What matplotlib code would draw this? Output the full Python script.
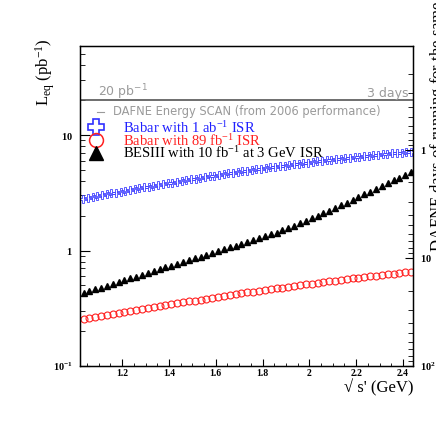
import matplotlib
matplotlib.use("Agg")
import matplotlib.pyplot as plt
from matplotlib.ticker import FixedLocator, MultipleLocator, NullFormatter, LogLocator

plt.rcParams['font.family'] = ['Liberation Serif', 'DejaVu Serif']
plt.rcParams['mathtext.fontset'] = 'custom'
plt.rcParams['mathtext.rm'] = 'Liberation Serif'
plt.rcParams['mathtext.bf'] = 'Liberation Serif:bold'
plt.rcParams['mathtext.it'] = 'Liberation Serif:italic'

# Babar with 1 ab-1 ISR
x_babar1 = [1.034, 1.054, 1.074, 1.094, 1.114, 1.134, 1.154, 1.174, 1.194, 1.214,
            1.234, 1.254, 1.274, 1.294, 1.314, 1.334, 1.354, 1.374, 1.394, 1.414,
            1.434, 1.454, 1.474, 1.494, 1.514, 1.534, 1.554, 1.574, 1.594, 1.614,
            1.634, 1.654, 1.674, 1.694, 1.714, 1.734, 1.754, 1.774, 1.794, 1.814,
            1.834, 1.854, 1.874, 1.894, 1.914, 1.934, 1.954, 1.974, 1.994, 2.014,
            2.034, 2.054, 2.074, 2.094, 2.114, 2.134, 2.154, 2.174, 2.194, 2.214,
            2.234, 2.254, 2.274, 2.294, 2.314, 2.334, 2.354, 2.374, 2.394, 2.414, 2.434]
lumi_babar1 = [2.79, 2.85, 2.90, 2.95, 3.01, 3.06, 3.12, 3.17, 3.23, 3.29,
               3.34, 3.40, 3.46, 3.52, 3.58, 3.64, 3.70, 3.76, 3.82, 3.88,
               3.94, 4.01, 4.07, 4.13, 4.19, 4.26, 4.32, 4.39, 4.45, 4.52,
               4.58, 4.65, 4.71, 4.78, 4.84, 4.91, 4.97, 5.04, 5.11, 5.17,
               5.24, 5.31, 5.37, 5.44, 5.51, 5.57, 5.64, 5.70, 5.77, 5.84,
               5.90, 5.97, 6.03, 6.10, 6.17, 6.23, 6.30, 6.36, 6.42, 6.49,
               6.55, 6.61, 6.68, 6.74, 6.80, 6.86, 6.92, 6.98, 7.04, 7.10, 7.16]

# Babar with 89 fb-1 and BESIII share the same energy points
x_scan = [1.035, 1.060, 1.085, 1.110, 1.135, 1.160, 1.185, 1.210, 1.235, 1.260,
          1.285, 1.310, 1.335, 1.360, 1.385, 1.410, 1.435, 1.460, 1.485, 1.510,
          1.535, 1.560, 1.585, 1.610, 1.635, 1.660, 1.685, 1.710, 1.735, 1.760,
          1.785, 1.810, 1.835, 1.860, 1.885, 1.910, 1.935, 1.960, 1.985, 2.010,
          2.035, 2.060, 2.085, 2.110, 2.135, 2.160, 2.185, 2.210, 2.235, 2.260,
          2.285, 2.310, 2.335, 2.360, 2.385, 2.410, 2.435]
lumi_babar89 = [0.254, 0.259, 0.264, 0.270, 0.276, 0.281, 0.287, 0.293, 0.299, 0.305,
                0.311, 0.317, 0.324, 0.330, 0.336, 0.343, 0.349, 0.356, 0.363, 0.369,
                0.376, 0.383, 0.390, 0.397, 0.404, 0.412, 0.419, 0.426, 0.433, 0.441,
                0.448, 0.456, 0.463, 0.471, 0.478, 0.486, 0.494, 0.502, 0.510, 0.517,
                0.525, 0.533, 0.541, 0.549, 0.558, 0.566, 0.574, 0.582, 0.590, 0.598,
                0.607, 0.615, 0.623, 0.631, 0.640, 0.648, 0.656]
lumi_besiii = [0.429, 0.445, 0.461, 0.478, 0.495, 0.514, 0.533, 0.552, 0.573, 0.594,
               0.617, 0.638, 0.662, 0.687, 0.713, 0.738, 0.766, 0.794, 0.824, 0.853,
               0.885, 0.918, 0.953, 0.989, 1.023, 1.062, 1.102, 1.143, 1.183, 1.227,
               1.274, 1.324, 1.377, 1.432, 1.493, 1.552, 1.629, 1.714, 1.803, 1.897,
               1.995, 2.099, 2.208, 2.328, 2.455, 2.588, 2.735, 2.891, 3.055, 3.236,
               3.420, 3.614, 3.819, 4.046, 4.276, 4.519, 4.786]

dafne_lumi = 20  # pb-1 in 3 days
x_ticks = [1.2, 1.4, 1.6, 1.8, 2.0, 2.2, 2.4]
x_ticklabels = ['1.2', '1.4', '1.6', '1.8', '2', '2.2', '2.4']
left_ticks = [0.1, 1, 10]
left_ticklabels = [r'$\mathbf{10^{-1}}$', r'$\mathbf{1}$', r'$\mathbf{10}$']
right_ticks = [1, 10, 100]
right_ticklabels = [r'$\mathbf{1}$', r'$\mathbf{10}$', r'$\mathbf{10^{2}}$']

fig = plt.figure(figsize=(4.36, 4.36), dpi=100)
ax = fig.add_axes([80/436, 70/436, 333/436, 320/436])

ax.plot(x_babar1, lumi_babar1, ls='none', marker='P', ms=5.5, mfc='none',
        mec='#4040ff', mew=0.6)
ax.plot(x_scan, lumi_babar89, ls='none', marker='o', ms=5, mfc='none',
        mec='#ff2020', mew=0.8)
ax.plot(x_scan, lumi_besiii, ls='none', marker='^', ms=5, color='black')
ax.axhline(dafne_lumi, color='#555555', lw=1.2)

ax.set_yscale('log')
ax.set_xlim(1.02, 2.443)
ax.set_ylim(0.1, 59)

ax.xaxis.set_major_locator(FixedLocator(x_ticks))
ax.xaxis.set_minor_locator(MultipleLocator(0.05))
ax.set_xticklabels(x_ticklabels, fontsize=7, fontweight='bold')
ax.yaxis.set_major_locator(FixedLocator(left_ticks))
ax.yaxis.set_minor_locator(LogLocator(subs=range(2, 10)))
ax.yaxis.set_minor_formatter(NullFormatter())
ax.set_yticklabels(left_ticklabels, fontsize=7.5)
ax.tick_params(which='both', direction='in', top=False, right=False)
ax.tick_params(axis='y', which='major', length=7, pad=5)
ax.tick_params(axis='y', which='minor', length=3.5)
ax.tick_params(axis='x', which='major', length=5, pad=2)
ax.tick_params(axis='x', which='minor', length=2.5)
for s in ax.spines.values():
    s.set_linewidth(1.0)

ax2 = ax.twinx()
ax2.set_yscale('log')
ax2.set_ylim(100, 0.109)
ax2.yaxis.set_major_locator(FixedLocator(right_ticks))
ax2.yaxis.set_minor_locator(LogLocator(subs=range(2, 10)))
ax2.yaxis.set_minor_formatter(NullFormatter())
ax2.set_yticklabels(right_ticklabels, fontsize=7.5)
ax2.tick_params(which='both', direction='in')
ax2.tick_params(which='major', length=6, pad=5)
ax2.tick_params(which='minor', length=3.5)

# top band annotations
ax.text(0.054, 0.842, r'20 pb$^{-1}$', transform=ax.transAxes, color='#9a9a9a',
        fontsize=9, family='DejaVu Sans', math_fontfamily='dejavusans', va='baseline')
ax.text(0.985, 0.842, '3 days', transform=ax.transAxes, color='#9a9a9a',
        fontsize=9, family='DejaVu Sans', ha='right', va='baseline')

# legend, drawn by hand like the original
ax.plot([0.051, 0.072], [0.794, 0.794], transform=ax.transAxes, color='#9a9a9a', lw=0.8)
ax.text(0.099, 0.794, 'DAFNE Energy SCAN (from 2006 performance)', transform=ax.transAxes,
        color='#9a9a9a', fontsize=8.3, family='DejaVu Sans', va='center')
ax.plot([0.048], [0.747], transform=ax.transAxes, marker='P', ms=11, mfc='none',
        mec='#3030ff', mew=1.2)
ax.plot([0.048], [0.706], transform=ax.transAxes, marker='o', ms=10, mfc='none',
        mec='#ff2020', mew=1.1)
ax.plot([0.048], [0.666], transform=ax.transAxes, marker='^', ms=10, color='black')
ax.text(0.129, 0.745, r'Babar with 1 ab$^{-1}$ ISR', transform=ax.transAxes,
        color='#2020ff', fontsize=10.5, va='center')
ax.text(0.129, 0.704, r'Babar with 89 fb$^{-1}$ ISR', transform=ax.transAxes,
        color='#ff2020', fontsize=10.5, va='center')
ax.text(0.129, 0.664, r'BESIII with 10 fb$^{-1}$ at 3 GeV ISR', transform=ax.transAxes,
        color='black', fontsize=10.5, va='center')

fig.text(413/436, 1 - 388/436, "\u221a s' (GeV)", ha='right', va='center', fontsize=12)
fig.text(45/436, 1 - 72/436, r'L$_{\rm eq}$ (pb$^{-1}$)', rotation=90,
         ha='center', va='center', fontsize=12)
fig.text(428.5/436, 1 - 252/436, 'DAFNE days of running for the same L$_{\\rm eq}$',
         rotation=90, ha='left', va='bottom', fontsize=12)

fig.savefig('out.png', dpi=100)
